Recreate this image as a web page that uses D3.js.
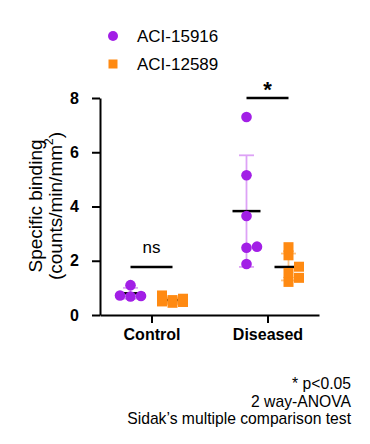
<!DOCTYPE html>
<html>
<head>
<meta charset="utf-8">
<script src="https://cdn.jsdelivr.net/npm/d3@7"></script>
<style>
  body { margin: 0; background: #fff; }
  text { font-family: "Liberation Sans", Arial, sans-serif; fill: #000; }
</style>
</head>
<body>
<div id="chart"></div>
<script>
// groups, series and values
var categories = ["Control", "Diseased"];
var seriesNames = ["ACI-15916", "ACI-12589"];
var seriesColors = ["#a21fe6", "#ff8a12"];
var errColors = ["#dda2f6", "#ffc484"];

var controlA = [1.1, 0.72, 0.7, 0.68];
var controlB = [0.72, 0.6, 0.55, 0.5, 0.48, 0.45];
var diseasedA = [7.3, 5.15, 3.65, 2.52, 2.48, 1.88];
var diseasedB = [2.5, 2.2, 1.78, 1.55, 1.37, 1.22];

var yTicks = [0, 2, 4, 6, 8];
var sigCats = ["Control", "Diseased"];
var sigLevels = [1.77, 8];
var sigLabels = ["ns", "*"];
var notes = ["* p<0.05", "2 way-ANOVA", "Sidak\u2019s multiple  comparison test"];

var groups = [
  {cat: "Control", s: 0, values: controlA},
  {cat: "Control", s: 1, values: controlB},
  {cat: "Diseased", s: 0, values: diseasedA},
  {cat: "Diseased", s: 1, values: diseasedB}
];

var W = 370, H = 444;
var svg = d3.select("#chart").append("svg")
    .attr("width", W).attr("height", H);

var x = d3.scalePoint().domain(categories).range([100, 319]).padding(0.444);
var off = d3.scalePoint().domain([0, 1]).range([-21, 21]);
var y = d3.scaleLinear().domain([0, 8]).range([315, 98]);

// y axis
var yAxis = svg.append("g")
    .attr("transform", "translate(100,0)")
    .call(d3.axisLeft(y).tickValues(yTicks).tickSize(8).tickSizeOuter(0).tickPadding(13));
yAxis.select(".domain").attr("stroke-width", 2);
yAxis.selectAll(".tick line").attr("stroke-width", 2);
yAxis.selectAll("text").attr("font-size", 16).attr("font-weight", "bold")
    .attr("font-family", "Liberation Sans, Arial, sans-serif").attr("fill", "#000");

// x axis
var xAxis = svg.append("g")
    .attr("transform", "translate(0,315)")
    .call(d3.axisBottom(x).tickSize(8).tickSizeOuter(0).tickPadding(6));
xAxis.select(".domain").attr("stroke-width", 2);
xAxis.selectAll(".tick line").attr("stroke-width", 2);
xAxis.selectAll("text").attr("font-size", 16).attr("font-weight", "bold")
    .attr("font-family", "Liberation Sans, Arial, sans-serif").attr("fill", "#000");

// y label
var ylab = svg.append("g").attr("transform", "translate(35,206) rotate(-90)");
ylab.append("text").attr("text-anchor", "middle").attr("dy", "0.35em")
    .attr("font-size", 19).text("Specific binding");
var l2 = ylab.append("text").attr("text-anchor", "middle").attr("y", 20).attr("dy", "0.35em")
    .attr("font-size", 19);
l2.append("tspan").text("(counts/min/mm");
l2.append("tspan").attr("font-size", 12).attr("dy", "-0.7em").text("2");
l2.append("tspan").attr("dy", "0.45em").text(")");

// simple swarm: slots 0, +1, -1 next to the group centre
function swarm(vals) {
  var step = 10.5, T = 8;
  var placed = [];
  vals.slice().sort(d3.ascending).forEach(function(v) {
    var py = y(v), best = null, bestGap = -1;
    [0, 1, -1].some(function(k) {
      var near = placed.filter(function(p) { return p.k === k; })
        .map(function(p) { return Math.abs(p.py - py); });
      var gap = near.length ? d3.min(near) : Infinity;
      if (gap >= T) { best = k; return true; }
      if (gap > bestGap) { bestGap = gap; best = k; }
      return false;
    });
    placed.push({v: v, py: py, k: best, dx: best * step});
  });
  return placed;
}

groups.forEach(function(g) {
  var cx = x(g.cat) + off(g.s);
  var m = d3.mean(g.values), sd = d3.deviation(g.values);
  var color = seriesColors[g.s];
  var gg = svg.append("g");

  // error bar (mean ± SD)
  gg.append("line").attr("x1", cx).attr("x2", cx)
    .attr("y1", y(m - sd)).attr("y2", y(m + sd))
    .attr("stroke", errColors[g.s]).attr("stroke-width", 1.8);
  [m - sd, m + sd].forEach(function(v) {
    gg.append("line").attr("x1", cx - 7.5).attr("x2", cx + 7.5)
      .attr("y1", y(v)).attr("y2", y(v))
      .attr("stroke", errColors[g.s]).attr("stroke-width", 1.8);
  });

  // mean line
  gg.append("line").attr("x1", cx - 14).attr("x2", cx + 14)
    .attr("y1", y(m)).attr("y2", y(m))
    .attr("stroke", "#000").attr("stroke-width", 2.5);

  var pts = swarm(g.values);
  if (g.s === 0) {
    gg.selectAll("circle").data(pts).enter().append("circle")
      .attr("cx", function(d) { return cx + d.dx; })
      .attr("cy", function(d) { return d.py; })
      .attr("r", 5.3).attr("fill", color);
  } else {
    gg.selectAll("rect").data(pts).enter().append("rect")
      .attr("x", function(d) { return cx + d.dx - 5; })
      .attr("y", function(d) { return d.py - 5; })
      .attr("width", 10).attr("height", 10).attr("fill", color);
  }
});

// significance bars
sigCats.forEach(function(c, i) {
  var yy = y(sigLevels[i]);
  svg.append("line").attr("x1", x(c) + off(0)).attr("x2", x(c) + off(1))
    .attr("y1", yy).attr("y2", yy).attr("stroke", "#000").attr("stroke-width", 2.5);
  var t = svg.append("text").attr("x", x(c)).attr("text-anchor", "middle").text(sigLabels[i]);
  if (sigLabels[i] === "*") t.attr("y", yy - 1).attr("font-size", 22).attr("font-weight", "bold");
  else t.attr("y", yy - 14).attr("font-size", 17);
});

// legend
seriesNames.forEach(function(n, i) {
  var ly = 36 + i * 28;
  if (i === 0) svg.append("circle").attr("cx", 113).attr("cy", ly).attr("r", 5).attr("fill", seriesColors[i]);
  else svg.append("rect").attr("x", 108.5).attr("y", ly - 4.5).attr("width", 9).attr("height", 9).attr("fill", seriesColors[i]);
  svg.append("text").attr("x", 137).attr("y", ly).attr("dy", "0.35em")
    .attr("font-size", 17).text(n);
});

// notes
svg.selectAll(".note").data(notes).enter().append("text")
  .attr("class", "note")
  .attr("x", 351).attr("y", function(d, i) { return 389 + i * 17.5; })
  .attr("text-anchor", "end").attr("font-size", 15.7).text(function(d) { return d; });
</script>
</body>
</html>
